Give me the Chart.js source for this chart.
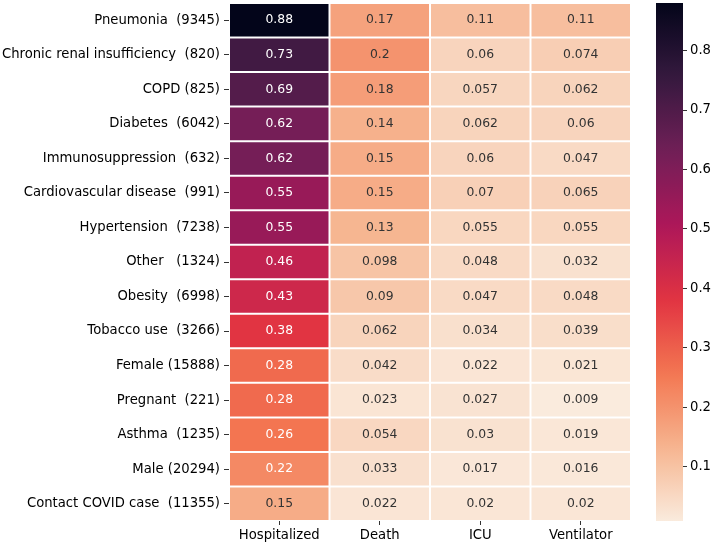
<!DOCTYPE html>
<html>
<head>
<meta charset="utf-8">
<script src="https://cdn.jsdelivr.net/npm/chart.js@4.4.1/dist/chart.umd.min.js"></script>
<style>
  html, body { margin: 0; padding: 0; background: #fff; }
  #wrap { position: relative; width: 713px; height: 546px; }
  #wrap canvas { position: absolute; left: 0; top: 0; }
</style>
</head>
<body>
<div id="wrap">
  <canvas id="main" width="713" height="546"></canvas>
  <canvas id="cbar" width="713" height="546"></canvas>
</div>
<script>
// ---- data ----
const rowLabels = [
  "Pneumonia  (9345)",
  "Chronic renal insufficiency  (820)",
  "COPD (825)",
  "Diabetes  (6042)",
  "Immunosuppression  (632)",
  "Cardiovascular disease  (991)",
  "Hypertension  (7238)",
  "Other   (1324)",
  "Obesity  (6998)",
  "Tobacco use  (3266)",
  "Female (15888)",
  "Pregnant  (221)",
  "Asthma  (1235)",
  "Male (20294)",
  "Contact COVID case  (11355)"
];
const columnLabels = ["Hospitalized", "Death", "ICU", "Ventilator"];
const hospitalized = [0.88, 0.73, 0.69, 0.62, 0.62, 0.55, 0.55, 0.46, 0.43, 0.38, 0.28, 0.28, 0.26, 0.22, 0.15];
const death        = [0.17, 0.2, 0.18, 0.14, 0.15, 0.15, 0.13, 0.098, 0.09, 0.062, 0.042, 0.023, 0.054, 0.033, 0.022];
const icu          = [0.11, 0.06, 0.057, 0.062, 0.06, 0.07, 0.055, 0.048, 0.047, 0.034, 0.022, 0.027, 0.03, 0.017, 0.02];
const ventilator   = [0.11, 0.074, 0.062, 0.06, 0.047, 0.065, 0.055, 0.032, 0.048, 0.039, 0.021, 0.009, 0.019, 0.016, 0.02];
const colorbarTicks = [0.1, 0.2, 0.3, 0.4, 0.5, 0.6, 0.7, 0.8];

const columns = [hospitalized, death, icu, ventilator];
const allVals = columns.flat();
const vmin = Math.min(...allVals);
const vmax = Math.max(...allVals);

// ---- colormap (seaborn "rocket", reversed) ----
const rocketStops = [
  [0, [3, 5, 26]], [1/7, [53, 25, 62]], [2/7, [112, 31, 87]], [3/7, [173, 23, 89]],
  [4/7, [225, 51, 66]], [5/7, [243, 118, 81]], [6/7, [246, 180, 143]], [1, [250, 235, 221]]
];
function rocket(t) {
  t = Math.max(0, Math.min(1, t));
  for (let i = 1; i < rocketStops.length; i++) {
    const [t1, c1] = rocketStops[i];
    const [t0, c0] = rocketStops[i - 1];
    if (t <= t1) {
      const f = (t - t0) / (t1 - t0);
      return c0.map((c, k) => Math.round(c + (c1[k] - c) * f));
    }
  }
  return rocketStops[rocketStops.length - 1][1];
}
function colorRGB(v) { return rocket(1 - (v - vmin) / (vmax - vmin)); }
function colorFor(v) { const c = colorRGB(v); return `rgb(${c[0]},${c[1]},${c[2]})`; }
function luminance(rgb) {
  const lin = rgb.map(c => { c /= 255; return c <= 0.03928 ? c / 12.92 : Math.pow((c + 0.055) / 1.055, 2.4); });
  return 0.2126 * lin[0] + 0.7152 * lin[1] + 0.0722 * lin[2];
}
function fmt(v) { return String(Number(v.toPrecision(2))); }

Chart.defaults.font.family = "'DejaVu Sans', sans-serif";
Chart.defaults.color = '#000';

const annotatePlugin = {
  id: 'annotate',
  afterDatasetsDraw(chart) {
    const ctx = chart.ctx;
    ctx.save();
    ctx.font = "12.4px 'DejaVu Sans'";
    ctx.textAlign = 'center';
    ctx.textBaseline = 'middle';
    chart.data.datasets.forEach((ds, di) => {
      const meta = chart.getDatasetMeta(di);
      meta.data.forEach((el, i) => {
        const v = ds.values[i];
        const p = el.getCenterPoint();
        ctx.fillStyle = luminance(colorRGB(v)) < 0.408 ? '#ffffff' : '#333333';
        ctx.fillText(fmt(v), p.x, p.y);
      });
    });
    ctx.restore();
  }
};

new Chart(document.getElementById('main'), {
  type: 'bar',
  data: {
    labels: rowLabels,
    datasets: columns.map((vals, j) => ({
      label: columnLabels[j],
      values: vals,
      data: vals.map(() => 1),
      backgroundColor: vals.map(colorFor),
      borderColor: '#ffffff',
      borderWidth: 1,
      borderSkipped: false,
      inflateAmount: 0,
      categoryPercentage: 1,
      barPercentage: 1
    }))
  },
  options: {
    indexAxis: 'y',
    responsive: false,
    animation: false,
    devicePixelRatio: 1,
    layout: { padding: { left: 0, top: 3, right: 82, bottom: 0 } },
    plugins: { legend: { display: false }, tooltip: { enabled: false } },
    scales: {
      x: { type: 'linear', stacked: true, min: 0, max: columnLabels.length, display: false },
      xc: {
        type: 'category', labels: columnLabels, position: 'bottom', offset: true,
        grid: { offset: false, drawOnChartArea: false, drawTicks: true, tickLength: 4, color: '#333' },
        border: { display: false },
        ticks: { font: { size: 13.2 }, color: '#000', padding: 3, maxRotation: 0 },
        afterFit(scale) { scale.height = 25; scale.paddingLeft = 0; scale.paddingRight = 0; }
      },
      y: {
        stacked: true,
        grid: { offset: false, drawOnChartArea: false, drawTicks: true, tickLength: 5, color: '#333' },
        border: { display: false },
        ticks: { font: { size: 13.2 }, color: '#000', padding: 4, autoSkip: false },
        afterFit(scale) { scale.width = 229; scale.paddingTop = 0; scale.paddingBottom = 0; }
      }
    }
  },
  plugins: [annotatePlugin]
});

// ---- colorbar ----
new Chart(document.getElementById('cbar'), {
  type: 'bar',
  data: {
    labels: ['cb'],
    datasets: [{
      data: [[vmin, vmax]],
      categoryPercentage: 1,
      barPercentage: 1,
      borderWidth: 0,
      inflateAmount: 0,
      backgroundColor(ctx) {
        const chart = ctx.chart;
        const ys = chart.scales.y;
        if (!chart.chartArea || !ys) return '#fff';
        const y0 = ys.getPixelForValue(vmin), y1 = ys.getPixelForValue(vmax);
        const g = chart.ctx.createLinearGradient(0, y0, 0, y1);
        const n = 40;
        for (let i = 0; i <= n; i++) {
          const c = rocket(1 - i / n);
          g.addColorStop(i / n, `rgb(${c[0]},${c[1]},${c[2]})`);
        }
        return g;
      }
    }]
  },
  options: {
    responsive: false,
    animation: false,
    devicePixelRatio: 1,
    layout: { padding: { left: 656, top: 3, right: 0, bottom: 25 } },
    plugins: { legend: { display: false }, tooltip: { enabled: false } },
    scales: {
      x: { display: false },
      y: {
        position: 'right', min: vmin, max: vmax,
        grid: { drawOnChartArea: false, drawTicks: true, tickLength: 4, color: '#333' },
        border: { display: false },
        ticks: { font: { size: 13.2 }, color: '#000', padding: 3, callback: v => Number(v).toFixed(1) },
        afterBuildTicks(scale) { scale.ticks = colorbarTicks.map(v => ({ value: v })); },
        afterFit(scale) { scale.width = 30; scale.paddingTop = 0; scale.paddingBottom = 0; }
      }
    }
  }
});
</script>
</body>
</html>
